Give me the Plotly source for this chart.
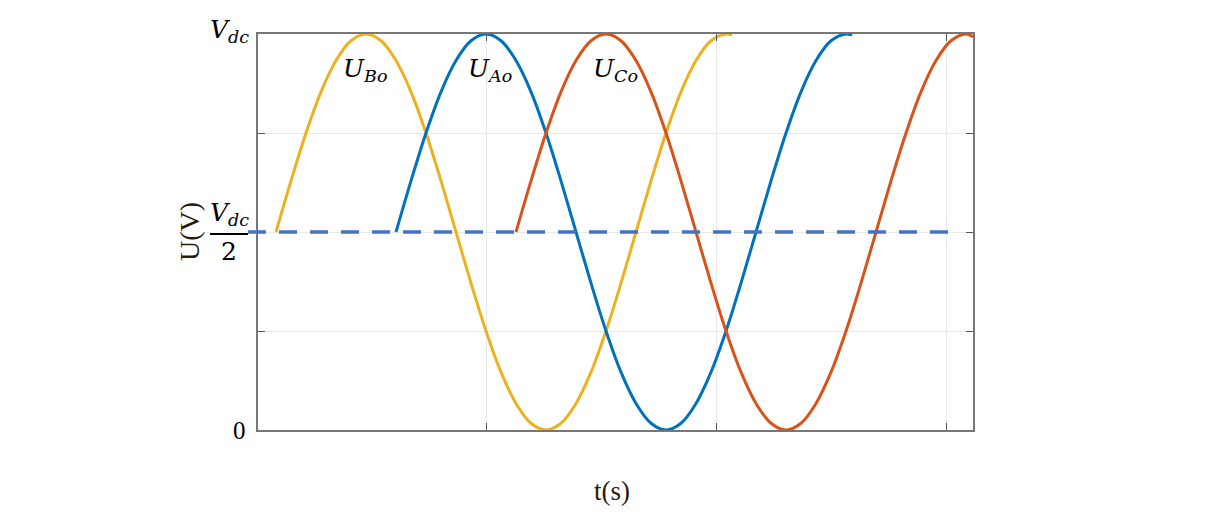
import plotly.graph_objects as go

# time in ms (x axis is unlabeled), voltage normalised to Vdc
yellow_t = [0.9, 1.65, 2.4, 3.15, 3.9, 4.65, 5.4, 6.15, 6.9, 7.65, 8.4, 9.15, 9.9, 10.65, 11.4, 12.15,
            12.9, 13.65, 14.4, 15.15, 15.9, 16.65, 17.4, 18.15, 18.9, 19.65, 20.4, 21.15, 21.9, 22.65, 23.4, 23.7]
yellow_u = [0.5, 0.629, 0.75, 0.854, 0.933, 0.983, 1.0, 0.983, 0.933, 0.854, 0.75, 0.629, 0.5, 0.371, 0.25, 0.146,
            0.067, 0.017, 0.0, 0.017, 0.067, 0.146, 0.25, 0.371, 0.5, 0.629, 0.75, 0.854, 0.933, 0.983, 1.0, 0.997]

blue_t = [6.9, 7.65, 8.4, 9.15, 9.9, 10.65, 11.4, 12.15, 12.9, 13.65, 14.4, 15.15, 15.9, 16.65, 17.4, 18.15,
          18.9, 19.65, 20.4, 21.15, 21.9, 22.65, 23.4, 24.15, 24.9, 25.65, 26.4, 27.15, 27.9, 28.65, 29.4, 29.7]
blue_u = [0.5, 0.629, 0.75, 0.854, 0.933, 0.983, 1.0, 0.983, 0.933, 0.854, 0.75, 0.629, 0.5, 0.371, 0.25, 0.146,
          0.067, 0.017, 0.0, 0.017, 0.067, 0.146, 0.25, 0.371, 0.5, 0.629, 0.75, 0.854, 0.933, 0.983, 1.0, 0.997]

orange_t = [12.9, 13.65, 14.4, 15.15, 15.9, 16.65, 17.4, 18.15, 18.9, 19.65, 20.4, 21.15, 21.9, 22.65, 23.4, 24.15,
            24.9, 25.65, 26.4, 27.15, 27.9, 28.65, 29.4, 30.15, 30.9, 31.65, 32.4, 33.15, 33.9, 34.65, 35.4, 35.75]
orange_u = [0.5, 0.629, 0.75, 0.854, 0.933, 0.983, 1.0, 0.983, 0.933, 0.854, 0.75, 0.629, 0.5, 0.371, 0.25, 0.146,
            0.067, 0.017, 0.0, 0.017, 0.067, 0.146, 0.25, 0.371, 0.5, 0.629, 0.75, 0.854, 0.933, 0.983, 1.0, 0.993]

x_grid = [11.4, 22.9, 34.4]
y_grid = [0, 0.25, 0.5, 0.75, 1]
half_level = 0.5

# plot area in page pixels; page body adds an 8px offset
L, R, T, B = 258, 973, 34, 430
OFF = 8
W, H = 1215, 515
def px(x): return (x - L) / (R - L)
def py(y): return (B - y) / (B - T)

serif = 'Liberation Serif'
mathf = 'DejaVu Serif'

fig = go.Figure()
fig.add_trace(go.Scatter(x=yellow_t, y=yellow_u, mode='lines', line_shape='spline',
                         line=dict(color='#EDB120', width=3), name='UBo'))
fig.add_trace(go.Scatter(x=blue_t, y=blue_u, mode='lines', line_shape='spline',
                         line=dict(color='#0072BD', width=3), name='UAo'))
fig.add_trace(go.Scatter(x=orange_t, y=orange_u, mode='lines', line_shape='spline',
                         line=dict(color='#D95319', width=3), name='UCo'))

# Vdc/2 reference line, runs a little past the left axis
fig.add_shape(type='line', xref='paper', yref='y', x0=px(248), x1=px(960), y0=half_level, y1=half_level,
              line=dict(color='#4472C4', width=3.5, dash='18px,13px'), layer='above')
# fraction bar
fig.add_shape(type='line', xref='paper', yref='paper', x0=px(210), x1=px(248), y0=py(234), y1=py(234),
              line=dict(color='black', width=2))

ann = [
    dict(x=px(251), y=py(31), text='<i>V</i><sub><i>dc</i></sub>', xanchor='right', yanchor='middle', size=25),
    dict(x=px(229), y=py(214), text='<i>V</i><sub><i>dc</i></sub>', xanchor='center', yanchor='middle', size=25),
    dict(x=px(229), y=py(251), text='2', xanchor='center', yanchor='middle', size=25),
    dict(x=px(365), y=py(70), text='<i>U</i><sub><i>Bo</i></sub>', xanchor='center', yanchor='middle', size=25),
    dict(x=px(490), y=py(70), text='<i>U</i><sub><i>Ao</i></sub>', xanchor='center', yanchor='middle', size=25),
    dict(x=px(615), y=py(70), text='<i>U</i><sub><i>Co</i></sub>', xanchor='center', yanchor='middle', size=25),
]
for a in ann:
    fig.add_annotation(x=a['x'], y=a['y'], xref='paper', yref='paper', text=a['text'], showarrow=False,
                       xanchor=a['xanchor'], yanchor=a['yanchor'], font=dict(family=mathf, size=a['size'], color='black'))
fig.add_annotation(x=px(239), y=py(430), xref='paper', yref='paper', text='0', showarrow=False,
                   xanchor='center', yanchor='middle', font=dict(family=serif, size=25, color='black'))
fig.add_annotation(x=px(189), y=py(232), xref='paper', yref='paper', text='U(V)', showarrow=False, textangle=-90,
                   xanchor='center', yanchor='middle', font=dict(family=serif, size=28, color='#2a1a0a'))
fig.add_annotation(x=px(612), y=py(491), xref='paper', yref='paper', text='t(s)', showarrow=False,
                   xanchor='center', yanchor='middle', font=dict(family=serif, size=27, color='#2a1a0a'))

fig.update_xaxes(range=[0, 35.75], tickvals=x_grid, showticklabels=False, ticks='inside', ticklen=7,
                 tickcolor='#555555', showgrid=True, gridcolor='#e8e8e8', gridwidth=1, zeroline=False,
                 showline=True, linecolor='#777777', linewidth=1.5, mirror='ticks')
fig.update_yaxes(range=[0, 1], tickvals=y_grid, showticklabels=False, ticks='inside', ticklen=7,
                 tickcolor='#555555', showgrid=True, gridcolor='#e8e8e8', gridwidth=1, zeroline=False,
                 showline=True, linecolor='#777777', linewidth=1.5, mirror='ticks')
fig.update_layout(width=W, height=H,
                  margin=dict(l=L - OFF, r=W - R + OFF, t=T - OFF, b=H - B + OFF),
                  showlegend=False, plot_bgcolor='white', paper_bgcolor='white')
fig.write_html("out.html")
